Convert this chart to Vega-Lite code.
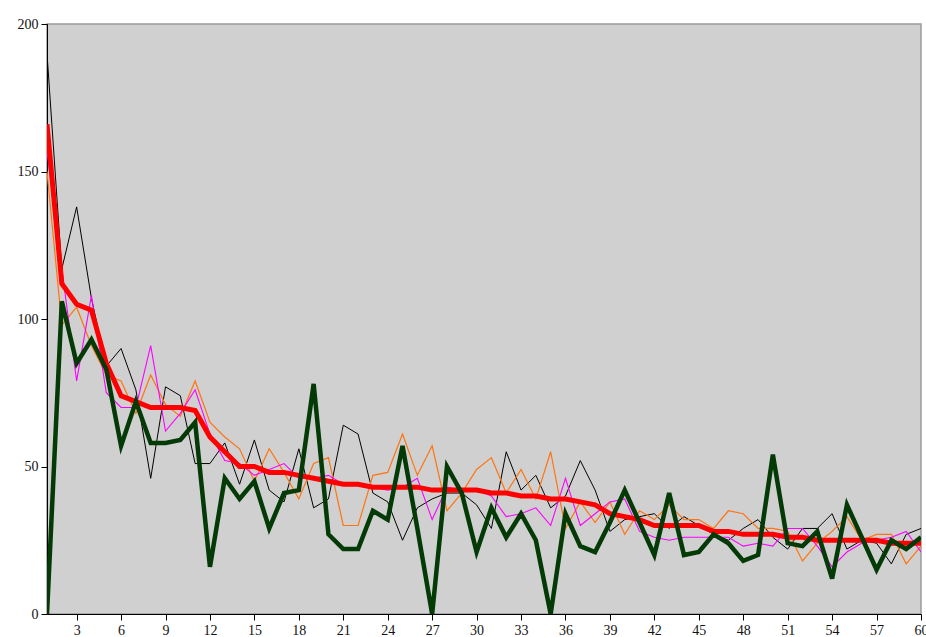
{
  "$schema": "https://vega.github.io/schema/vega-lite/v6.json",
  "width": 874,
  "height": 590,
  "autosize": {"type": "none"},
  "padding": {"left": 47, "top": 24, "right": 5, "bottom": 23},
  "background": "white",
  "config": {
    "view": {"fill": "#d0d0d0", "stroke": "#9a9a9a", "strokeWidth": 1.5},
    "axis": {"grid": false, "labelFont": "Liberation Serif", "labelFontSize": 14, "labelColor": "#111", "domainColor": "#000", "tickColor": "#000", "tickSize": 6, "title": null}
  },
  "data": {"values": [
    {"x":1,"black":190,"orange":150,"magenta":157,"red":166,"green":0},
    {"x":2,"black":117,"orange":98,"magenta":117,"red":112,"green":106},
    {"x":3,"black":138,"orange":104,"magenta":79,"red":105,"green":85},
    {"x":4,"black":107,"orange":91,"magenta":108,"red":103,"green":93},
    {"x":5,"black":84,"orange":81,"magenta":75,"red":85,"green":83},
    {"x":6,"black":90,"orange":79,"magenta":70,"red":74,"green":57},
    {"x":7,"black":76,"orange":68,"magenta":70,"red":72,"green":72},
    {"x":8,"black":46,"orange":81,"magenta":91,"red":70,"green":58},
    {"x":9,"black":77,"orange":71,"magenta":62,"red":70,"green":58},
    {"x":10,"black":74,"orange":67,"magenta":68,"red":70,"green":59},
    {"x":11,"black":51,"orange":79,"magenta":76,"red":69,"green":65},
    {"x":12,"black":51,"orange":65,"magenta":61,"red":60,"green":16},
    {"x":13,"black":58,"orange":60,"magenta":52,"red":55,"green":46},
    {"x":14,"black":44,"orange":56,"magenta":51,"red":50,"green":39},
    {"x":15,"black":59,"orange":45,"magenta":47,"red":50,"green":45},
    {"x":16,"black":42,"orange":56,"magenta":49,"red":48,"green":29},
    {"x":17,"black":38,"orange":48,"magenta":51,"red":48,"green":41},
    {"x":18,"black":56,"orange":39,"magenta":46,"red":47,"green":42},
    {"x":19,"black":36,"orange":51,"magenta":46,"red":46,"green":78},
    {"x":20,"black":39,"orange":53,"magenta":47,"red":45,"green":27},
    {"x":21,"black":64,"orange":30,"magenta":44,"red":44,"green":22},
    {"x":22,"black":61,"orange":30,"magenta":44,"red":44,"green":22},
    {"x":23,"black":41,"orange":47,"magenta":43,"red":43,"green":35},
    {"x":24,"black":38,"orange":48,"magenta":42,"red":43,"green":32},
    {"x":25,"black":25,"orange":61,"magenta":43,"red":43,"green":57},
    {"x":26,"black":36,"orange":47,"magenta":46,"red":43,"green":29},
    {"x":27,"black":39,"orange":57,"magenta":32,"red":42,"green":0},
    {"x":28,"black":41,"orange":35,"magenta":43,"red":42,"green":50},
    {"x":29,"black":41,"orange":41,"magenta":42,"red":42,"green":41},
    {"x":30,"black":37,"orange":49,"magenta":42,"red":42,"green":21},
    {"x":31,"black":29,"orange":53,"magenta":40,"red":41,"green":36},
    {"x":32,"black":55,"orange":41,"magenta":33,"red":41,"green":26},
    {"x":33,"black":42,"orange":49,"magenta":34,"red":40,"green":34},
    {"x":34,"black":47,"orange":39,"magenta":36,"red":40,"green":25},
    {"x":35,"black":36,"orange":55,"magenta":30,"red":39,"green":0},
    {"x":36,"black":40,"orange":29,"magenta":46,"red":39,"green":34},
    {"x":37,"black":52,"orange":38,"magenta":30,"red":38,"green":23},
    {"x":38,"black":42,"orange":31,"magenta":34,"red":37,"green":21},
    {"x":39,"black":28,"orange":38,"magenta":38,"red":34,"green":31},
    {"x":40,"black":32,"orange":27,"magenta":39,"red":33,"green":42},
    {"x":41,"black":33,"orange":35,"magenta":28,"red":32,"green":31},
    {"x":42,"black":34,"orange":32,"magenta":26,"red":30,"green":20},
    {"x":43,"black":29,"orange":37,"magenta":25,"red":30,"green":41},
    {"x":44,"black":33,"orange":32,"magenta":26,"red":30,"green":20},
    {"x":45,"black":30,"orange":32,"magenta":26,"red":30,"green":21},
    {"x":46,"black":27,"orange":29,"magenta":26,"red":28,"green":27},
    {"x":47,"black":25,"orange":35,"magenta":26,"red":28,"green":24},
    {"x":48,"black":29,"orange":34,"magenta":23,"red":27,"green":18},
    {"x":49,"black":32,"orange":29,"magenta":24,"red":27,"green":20},
    {"x":50,"black":26,"orange":29,"magenta":23,"red":27,"green":54},
    {"x":51,"black":22,"orange":28,"magenta":29,"red":26,"green":24},
    {"x":52,"black":29,"orange":18,"magenta":29,"red":26,"green":23},
    {"x":53,"black":29,"orange":24,"magenta":23,"red":25,"green":28},
    {"x":54,"black":34,"orange":28,"magenta":16,"red":25,"green":12},
    {"x":55,"black":22,"orange":33,"magenta":21,"red":25,"green":37},
    {"x":56,"black":25,"orange":25,"magenta":24,"red":25,"green":26},
    {"x":57,"black":24,"orange":27,"magenta":25,"red":25,"green":15},
    {"x":58,"black":17,"orange":27,"magenta":26,"red":24,"green":25},
    {"x":59,"black":27,"orange":17,"magenta":28,"red":24,"green":22},
    {"x":60,"black":29,"orange":23,"magenta":21,"red":24,"green":26}
  ]},
  "encoding": {
    "x": {"field": "x", "type": "quantitative", "scale": {"domain": [1, 60], "nice": false, "zero": false},
          "axis": {"values": [3,6,9,12,15,18,21,24,27,30,33,36,39,42,45,48,51,54,57,60], "labelPadding": 3, "labelFlush": false, "labelBound": false, "labelOverlap": false}}
  },
  "layer": [
    {"mark": {"type": "line", "color": "#000000", "strokeWidth": 1, "clip": true},
     "encoding": {"y": {"field": "black", "type": "quantitative", "scale": {"domain": [0, 200], "nice": false}, "axis": {"values": [0,50,100,150,200], "labelPadding": 3, "labelFlush": false}}}},
    {"mark": {"type": "line", "color": "#ff7410", "strokeWidth": 1.2, "clip": true},
     "encoding": {"y": {"field": "orange", "type": "quantitative"}}},
    {"mark": {"type": "line", "color": "#ff00ff", "strokeWidth": 1.1, "clip": true},
     "encoding": {"y": {"field": "magenta", "type": "quantitative"}}},
    {"mark": {"type": "line", "color": "#ff0000", "strokeWidth": 5, "clip": true},
     "encoding": {"y": {"field": "red", "type": "quantitative"}}},
    {"mark": {"type": "line", "color": "#033a06", "strokeWidth": 4.5, "clip": true},
     "encoding": {"y": {"field": "green", "type": "quantitative"}}}
  ]
}
